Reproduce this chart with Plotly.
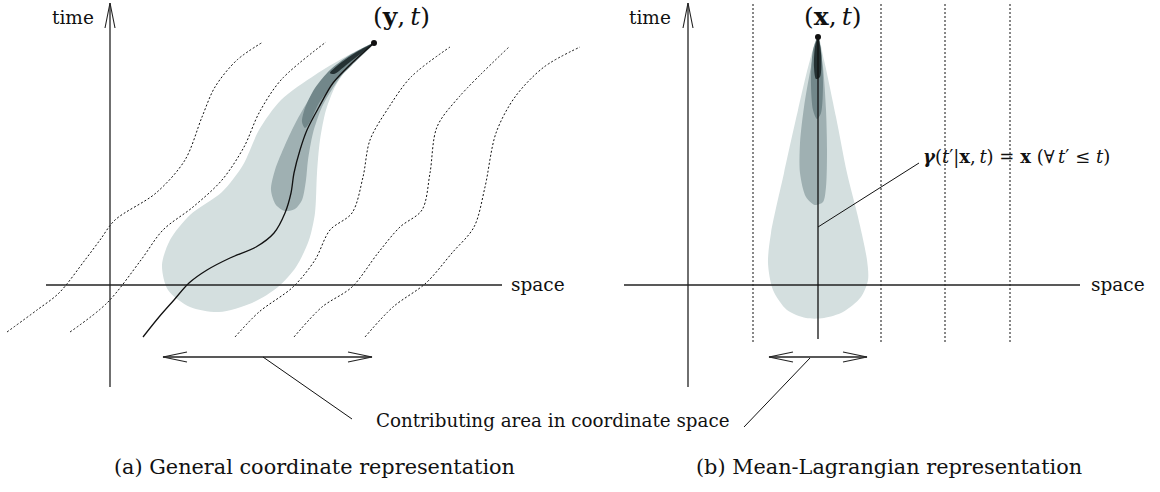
import plotly.graph_objects as go

# ---------------------------------------------------------------------------
# Diagram geometry, in (space, time) units measured from each panel's origin
# ---------------------------------------------------------------------------

# Panel (a): general coordinate representation
traj_a = [(264, 242), (242, 222), (223, 202), (209, 178), (197, 155), (190, 135),
          (184, 112), (181, 92), (175, 72), (164, 52), (146, 38), (120, 27),
          (97, 15), (79, 2), (64, -15), (49, -32), (33, -52)]

light_a = [(264, 242), (235, 228), (205, 210), (171, 185), (149, 155), (133, 120),
           (112, 93), (80, 70), (60, 45), (52, 20), (58, -5), (80, -22), (109, -27),
           (142, -18), (168, -2), (186, 18), (199, 45), (205, 72), (207, 112),
           (210, 145), (216, 175), (226, 200), (242, 222), (264, 242)]

medium_a = [(264, 242), (242, 230), (220, 213), (202, 190), (187, 165), (175, 140),
            (165, 115), (161, 95), (166, 80), (175, 74), (185, 76), (192, 85),
            (196, 105), (198, 125), (203, 152), (212, 178), (225, 200), (242, 223),
            (264, 242)]

dark_a = [(264, 242), (240, 230), (220, 215), (205, 197), (195, 177), (192, 163),
          (195, 157), (200, 163), (208, 180), (222, 200), (242, 220), (264, 242)]

core_a = [(264, 242), (245, 232), (228, 220), (220, 212), (224, 211), (240, 223),
          (264, 242)]

# deformed coordinate lines (dotted)
grid_a = [
    [(-103, -47), (-73, -25), (-51, -8), (-25, 25), (-10, 45), (5, 65), (46, 92),
     (75, 125), (92, 168), (105, 198), (127, 225), (153, 243)],
    [(-40, -47), (-3, -18), (31, 25), (53, 55), (83, 78), (112, 105), (134, 138),
     (149, 172), (171, 205), (216, 243)],
    [(125, -52), (149, -27), (183, -2), (205, 25), (220, 55), (242, 72), (253, 108),
     (260, 145), (279, 178), (301, 208), (340, 238)],
    [(184, -52), (212, -22), (242, -2), (268, 32), (290, 58), (312, 75), (320, 112),
     (327, 158), (349, 188), (399, 238)],
    [(255, -52), (283, -22), (316, 2), (342, 32), (364, 58), (375, 98), (386, 152),
     (405, 188), (434, 218), (470, 238)],
]

span_a = (53, 262)          # contributing area along space
leader_a = [(153, -72), (242, -134)]

# Panel (b): mean-Lagrangian representation
tip_b = (130, 248)
traj_b = [(130, 248), (130, -54)]

light_b = [(130, 248), (122, 225), (110, 175), (96, 112), (83, 52), (80, 22), (85, -5),
           (99, -25), (118, -33), (136, -33), (155, -27), (173, -12), (180, 5),
           (179, 25), (170, 68), (159, 112), (148, 168), (136, 225), (130, 248)]

medium_b = [(130, 248), (123, 218), (116, 178), (112, 142), (112, 112), (118, 88),
            (127, 80), (135, 83), (138, 98), (139, 135), (138, 175), (135, 218),
            (130, 248)]

dark_b = [(130, 248), (125, 235), (123, 202), (125, 175), (129, 166), (133, 172),
          (135, 202), (133, 235), (130, 248)]

core_b = [(130, 248), (127, 238), (126, 218), (128, 206), (132, 208), (133, 232),
          (130, 248)]

grid_b_x = [65, 193, 257, 322]
grid_b_t = (-57, 282)

span_b = (81, 179)
leader_b = [(122, -73), (56, -142)]
gamma_leader = [(130, 58), (231, 122)]

# shared axis extents
time_axis = (-102, 282)
space_axis = (-64, 392)

# ---------------------------------------------------------------------------
FILL_LIGHT = "#d4dfdf"
FILL_MEDIUM = "#9fb0b2"
FILL_DARK = "#72878a"
FILL_CORE = "#243133"
INK = "#111111"
FONT = "DejaVu Serif"

fig = go.Figure()


def add_path(pts, xa, ya, color=INK, width=1.2, dash=None, shape="linear"):
    xs, ys = zip(*pts)
    fig.add_trace(go.Scatter(x=xs, y=ys, xaxis=xa, yaxis=ya, mode="lines",
                             line=dict(color=color, width=width, dash=dash, shape=shape,
                                       smoothing=0.9),
                             hoverinfo="skip", showlegend=False))


def add_blob(pts, xa, ya, color):
    xs, ys = zip(*pts)
    fig.add_trace(go.Scatter(x=xs, y=ys, xaxis=xa, yaxis=ya, mode="lines",
                             fill="toself", fillcolor=color,
                             line=dict(width=0, color=color, shape="spline", smoothing=0.8),
                             hoverinfo="skip", showlegend=False))


def add_axes(xa, ya):
    # time axis with an open arrowhead, and the space axis
    add_path([(0, time_axis[0]), (0, time_axis[1])], xa, ya, color="#222222", width=1.3)
    add_path([(-5, time_axis[1] - 25), (0, time_axis[1]), (5, time_axis[1] - 25)],
             xa, ya, color="#222222", width=1.1)
    add_path([(space_axis[0], 0), (space_axis[1], 0)], xa, ya, color="#222222", width=1.3)


def add_span(span, xa, ya, t=-72):
    lo, hi = span
    add_path([(lo, t), (hi, t)], xa, ya, color="#222222", width=1.3)
    add_path([(lo + 24, t + 5), (lo, t), (lo + 24, t - 5)], xa, ya, color="#222222", width=1.1)
    add_path([(hi - 24, t + 5), (hi, t), (hi - 24, t - 5)], xa, ya, color="#222222", width=1.1)


# ----- panel (a)
for line in grid_a:
    add_path(line, "x", "y", color=INK, width=1, dash="2px,2px", shape="spline")
add_blob(light_a, "x", "y", FILL_LIGHT)
add_blob(medium_a, "x", "y", FILL_MEDIUM)
add_blob(dark_a, "x", "y", FILL_DARK)
add_blob(core_a, "x", "y", FILL_CORE)
add_axes("x", "y")
add_path(traj_a, "x", "y", color=INK, width=1.3, shape="spline")
fig.add_trace(go.Scatter(x=[traj_a[0][0]], y=[traj_a[0][1]], xaxis="x", yaxis="y",
                         mode="markers", marker=dict(color=INK, size=6),
                         hoverinfo="skip", showlegend=False))
add_span(span_a, "x", "y")
add_path(leader_a, "x", "y", color=INK, width=1)

# ----- panel (b)
for gx in grid_b_x:
    add_path([(gx, grid_b_t[0]), (gx, grid_b_t[1])], "x2", "y2", color=INK, width=1,
             dash="2px,2px")
add_blob(light_b, "x2", "y2", FILL_LIGHT)
add_blob(medium_b, "x2", "y2", FILL_MEDIUM)
add_blob(dark_b, "x2", "y2", FILL_DARK)
add_blob(core_b, "x2", "y2", FILL_CORE)
add_axes("x2", "y2")
add_path(traj_b, "x2", "y2", color=INK, width=1.3)
fig.add_trace(go.Scatter(x=[tip_b[0]], y=[tip_b[1]], xaxis="x2", yaxis="y2",
                         mode="markers", marker=dict(color=INK, size=6),
                         hoverinfo="skip", showlegend=False))
add_span(span_b, "x2", "y2")
add_path(leader_b, "x2", "y2", color=INK, width=1)
add_path(gamma_leader, "x2", "y2", color=INK, width=1)

# ----- text
def label(text, x, y, xref, yref, size, xanchor="center"):
    fig.add_annotation(text=text, x=x, y=y, xref=xref, yref=yref, showarrow=False,
                       xanchor=xanchor, yanchor="middle",
                       font=dict(family=FONT, size=size, color=INK))


label("time", -14, 268, "x", "y", 18.5, xanchor="right")
label("time", -15, 268, "x2", "y2", 18.5, xanchor="right")
label("space", 399, 1, "x", "y", 18.5, xanchor="left")
label("space", 401, 1, "x2", "y2", 18.5, xanchor="left")
label("(<b>y</b>,\u2009<i>t</i>)", 291, 269, "x", "y", 25)
label("(<b>x</b>,\u2009<i>t</i>)", 144, 269, "x2", "y2", 25)
label("<b><i>γ</i></b>(<i>t</i>′|<b>x</b>,\u2009<i>t</i>) = <b>x</b> (∀\u2009<i>t</i>′ ≤ <i>t</i>)",
      233, 128, "x2", "y2", 18, xanchor="left")
label("Contributing area in coordinate space", 553 / 1160, 1 - 420 / 492,
      "paper", "paper", 18.3)
label("(a) General coordinate representation", 314 / 1160, 1 - 467 / 492,
      "paper", "paper", 20.8)
label("(b) Mean-Lagrangian representation", 889 / 1160, 1 - 467 / 492,
      "paper", "paper", 20.8)

hidden = dict(visible=False, showgrid=False, zeroline=False, fixedrange=True)
fig.update_layout(
    width=1160, height=492, autosize=False,
    margin=dict(l=0, r=0, t=0, b=0, pad=0),
    paper_bgcolor="white", plot_bgcolor="white",
    xaxis=dict(domain=[0, 0.5], range=[-110, 470], **hidden),
    yaxis=dict(domain=[0, 1], range=[-207, 285], anchor="x", **hidden),
    xaxis2=dict(domain=[0.5, 1], range=[-108, 472], anchor="y2", **hidden),
    yaxis2=dict(domain=[0, 1], range=[-207, 285], anchor="x2", **hidden),
    showlegend=False,
)

fig.write_html("out.html", config=dict(displayModeBar=False, staticPlot=True))
